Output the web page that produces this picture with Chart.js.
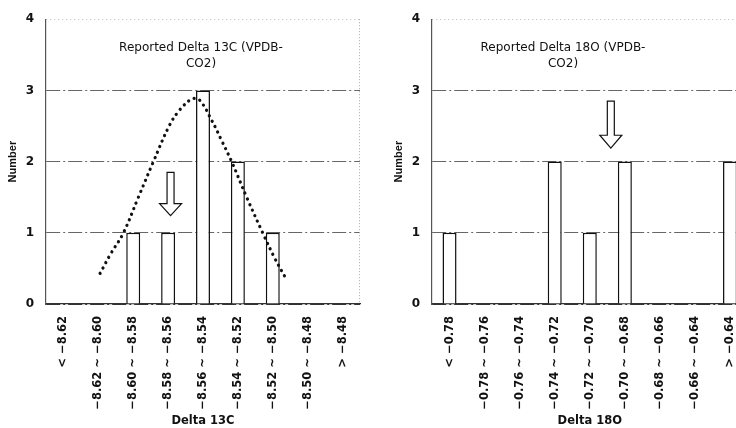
<!DOCTYPE html>
<html>
<head>
<meta charset="utf-8">
<script src="https://cdn.jsdelivr.net/npm/chart.js@4.4.1/dist/chart.umd.min.js"></script>
<style>
  html, body { margin: 0; padding: 0; background: #fff; overflow: hidden; width: 736px; height: 428px; }
  .box { position: absolute; top: 0; height: 428px; }
  #left { left: 0; width: 370px; }
  #right { left: 370px; width: 386px; }
</style>
</head>
<body>
<div class="box" id="left"><canvas id="c13"></canvas></div>
<div class="box" id="right"><canvas id="c18"></canvas></div>
<script>
// Delta 13C histogram
const labels13 = ['< \u22128.62', '\u22128.62 ~ \u22128.60', '\u22128.60 ~ \u22128.58', '\u22128.58 ~ \u22128.56',
  '\u22128.56 ~ \u22128.54', '\u22128.54 ~ \u22128.52', '\u22128.52 ~ \u22128.50', '\u22128.50 ~ \u22128.48', '> \u22128.48'];
const counts13 = [0, 0, 1, 1, 3, 2, 1, 0, 0];
// normal curve (x in category index units)
const curveX13 = [1.05, 1.36, 1.71, 2.14, 2.57, 3.05, 3.34, 3.63, 3.71, 3.91, 4.26, 4.54, 4.83, 5.26, 5.72, 6.06, 6.41];
const curveY13 = [0.43, 0.71, 0.99, 1.49, 1.99, 2.52, 2.73, 2.87, 2.89, 2.86, 2.57, 2.29, 1.99, 1.49, 0.99, 0.64, 0.33];
const arrow13 = { x: 3.07, top: 1.85, neck: 1.41, tip: 1.24 };
const title13 = ['Reported Delta 13C (VPDB-', 'CO2)'];

// Delta 18O histogram
const labels18 = ['< \u22120.78', '\u22120.78 ~ \u22120.76', '\u22120.76 ~ \u22120.74', '\u22120.74 ~ \u22120.72',
  '\u22120.72 ~ \u22120.70', '\u22120.70 ~ \u22120.68', '\u22120.68 ~ \u22120.66', '\u22120.66 ~ \u22120.64', '> \u22120.64'];
const counts18 = [1, 0, 0, 2, 1, 2, 0, 0, 2];
const arrow18 = { x: 4.6, top: 2.85, neck: 2.37, tip: 2.19 };
const title18 = ['Reported Delta 18O (VPDB-', 'CO2)'];

// draws the in-plot title, the down arrow and the dotted right frame
const decorPlugin = {
  id: 'decor',
  afterDatasetsDraw(chart, args, opts) {
    const ctx = chart.ctx;
    const a = chart.chartArea;
    const xs = chart.scales.xc, ys = chart.scales.y;
    ctx.save();
    // right frame
    ctx.strokeStyle = '#aaa';
    ctx.lineWidth = 1;
    ctx.setLineDash([1, 2]);
    ctx.beginPath();
    ctx.moveTo(a.right - 0.5, a.top);
    ctx.lineTo(a.right - 0.5, a.bottom);
    ctx.stroke();
    ctx.setLineDash([]);
    // arrow
    const ar = opts.arrow;
    const cx = xs.getPixelForValue(ar.x);
    const yt = ys.getPixelForValue(ar.top), yn = ys.getPixelForValue(ar.neck), yp = ys.getPixelForValue(ar.tip);
    ctx.beginPath();
    ctx.moveTo(cx - 3.5, yt);
    ctx.lineTo(cx + 3.5, yt);
    ctx.lineTo(cx + 3.5, yn);
    ctx.lineTo(cx + 11, yn);
    ctx.lineTo(cx, yp);
    ctx.lineTo(cx - 11, yn);
    ctx.lineTo(cx - 3.5, yn);
    ctx.closePath();
    ctx.fillStyle = '#fff';
    ctx.fill();
    ctx.strokeStyle = '#111';
    ctx.lineWidth = 1.2;
    ctx.stroke();
    // title inside plot
    ctx.fillStyle = '#111';
    ctx.font = '12px "DejaVu Sans"';
    ctx.textAlign = 'center';
    ctx.textBaseline = 'middle';
    opts.title.forEach((t, i) => ctx.fillText(t, a.left + opts.titleDx, a.top + 29 + i * 16));
    ctx.restore();
  }
};

function makeChart(id, labels, counts, extra, decor, padLeft, padRight) {
  const datasets = [{
    type: 'bar',
    data: counts,
    backgroundColor: '#fff',
    borderColor: '#111',
    borderWidth: 1.5,
    barPercentage: 0.4,
    categoryPercentage: 1,
    grouped: false,
    order: 2
  }].concat(extra);
  return new Chart(document.getElementById(id), {
    data: { labels: labels, datasets: datasets },
    plugins: [decorPlugin],
    options: {
      responsive: true,
      maintainAspectRatio: false,
      animation: false,
      layout: { padding: { left: padLeft, right: padRight, top: 18, bottom: 0 } },
      plugins: { legend: { display: false }, tooltip: { enabled: false }, decor: decor },
      scales: {
        x: {
          type: 'category',
          offset: true,
          afterFit: (s) => { s.height = 124; },
          grid: { display: false, drawTicks: false },
          border: { display: true, color: '#333', width: 1.2 },
          ticks: { maxRotation: 90, minRotation: 90, autoSkip: false, padding: 12, color: '#111',
                   font: { family: 'DejaVu Sans', size: 11.5, weight: 'bold' } },
          title: { display: true, text: id === 'c13' ? 'Delta 13C' : 'Delta 18O', color: '#111',
                   padding: { top: 0, bottom: 0 }, font: { family: 'DejaVu Sans', size: 11.5, weight: 'bold' } }
        },
        xc: { type: 'linear', display: false, min: -0.5, max: 8.5 },
        y: {
          min: 0, max: 4,
          afterFit: (s) => { s.width = 46; },
          ticks: { stepSize: 1, padding: 12, color: '#111',
                   font: { family: 'DejaVu Sans', size: 12, weight: 'bold' } },
          grid: {
            drawTicks: false,
            color: (c) => c.tick && c.tick.value === 4 ? '#bbb' : (c.tick && c.tick.value === 0 ? '#333' : '#666'),
            lineWidth: 1
          },
          border: { display: true, color: '#555', width: 1.2,
                    dash: (c) => c.tick && c.tick.value === 4 ? [1, 3] : [14, 3, 2, 3] },
          title: { display: true, text: 'Number', color: '#111', padding: { top: 6, bottom: 0 },
                   font: { family: 'Liberation Sans', size: 11, weight: 'bold' } }
        }
      }
    }
  });
}

const curvePoints13 = curveX13.map((x, i) => ({ x: x, y: curveY13[i] }));

makeChart('c13', labels13, counts13, [{
  type: 'line',
  xAxisID: 'xc',
  data: curvePoints13,
  borderColor: '#111',
  borderWidth: 3.2,
  borderDash: [0.1, 6],
  borderCapStyle: 'round',
  pointRadius: 0,
  tension: 0.4,
  fill: false,
  order: 1
}], { arrow: arrow13, title: title13, titleDx: 155 }, 0, 10);

makeChart('c18', labels18, counts18, [], { arrow: arrow18, title: title18, titleDx: 131 }, 16, 3);
</script>
</body>
</html>
